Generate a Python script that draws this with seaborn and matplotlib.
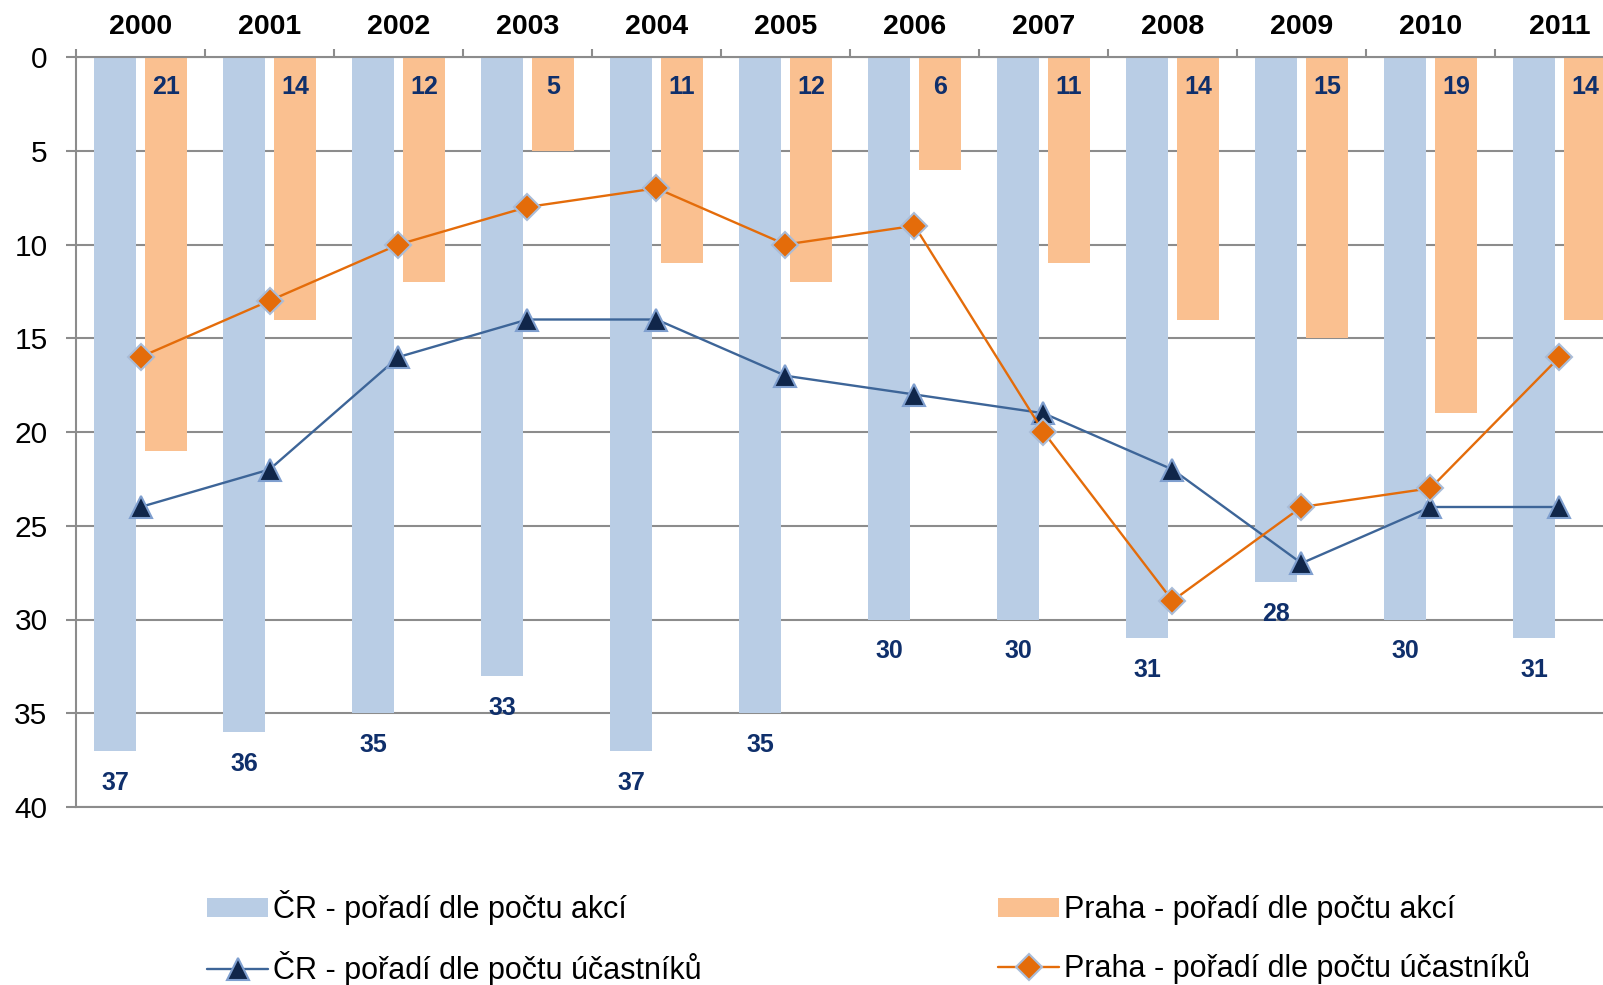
import matplotlib
matplotlib.use("Agg")
import matplotlib.pyplot as plt
from matplotlib.patches import Patch
from matplotlib.lines import Line2D
import seaborn as sns
import numpy as np
import pandas as pd

# data (rank, lower is better)
roky = ["2000", "2001", "2002", "2003", "2004", "2005",
        "2006", "2007", "2008", "2009", "2010", "2011"]
cr_akce = [37, 36, 35, 33, 37, 35, 30, 30, 31, 28, 30, 31]
praha_akce = [21, 14, 12, 5, 11, 12, 6, 11, 14, 15, 19, 14]
cr_ucast = [24, 22, 16, 14, 14, 17, 18, 19, 22, 27, 24, 24]
praha_ucast = [16, 13, 10, 8, 7, 10, 9, 20, 29, 24, 23, 16]

lbl_cr_akce = "ČR - pořadí dle počtu akcí"
lbl_praha_akce = "Praha - pořadí dle počtu akcí"
lbl_cr_ucast = "ČR - pořadí dle počtu účastníků"
lbl_praha_ucast = "Praha - pořadí dle počtu účastníků"

modra = "#b9cde5"
oranzova = "#fac090"
modra_cara = "#3d6598"
oranzova_cara = "#e46c0a"
popisky = "#0f2f6b"
seda = "#8c8c8c"

sns.set_style("white")
plt.rcParams["font.family"] = ["Liberation Sans", "DejaVu Sans"]
plt.rcParams["text.color"] = "black"
plt.rcParams["xtick.color"] = "black"
plt.rcParams["ytick.color"] = "black"

df = pd.DataFrame({
    "rok": roky * 2,
    "serie": [lbl_cr_akce] * len(roky) + [lbl_praha_akce] * len(roky),
    "poradi": cr_akce + praha_akce,
})

fig = plt.figure(figsize=(16.03, 9.85), dpi=100)
ax = fig.add_axes([76 / 1603, 178 / 985, 12 * 129 / 1603, 750 / 985])

sns.barplot(data=df, x="rok", y="poradi", hue="serie",
            palette=[modra, oranzova], width=0.79, gap=0.18,
            errorbar=None, saturation=1, linewidth=0, legend=False, ax=ax)

poz = np.arange(len(roky))
sns.lineplot(x=poz, y=cr_ucast, color=modra_cara, linewidth=1.7,
             marker="^", markersize=16, markerfacecolor="#10264a",
             markeredgecolor="#7f9fcf", markeredgewidth=1.5, ax=ax)
sns.lineplot(x=poz, y=praha_ucast, color=oranzova_cara, linewidth=1.7,
             marker="D", markersize=13, markerfacecolor=oranzova_cara,
             markeredgecolor="#a9bcd8", markeredgewidth=1.5, ax=ax)

# popisky hodnot
for i in poz:
    ax.text(i - 0.1975, cr_akce[i] + 1.7, str(cr_akce[i]), ha="center", va="center",
            fontsize=18, fontweight="bold", color=popisky)
    ax.text(i + 0.1975, 1.6, str(praha_akce[i]), ha="center", va="center",
            fontsize=18, fontweight="bold", color=popisky)

ax.set_ylim(40, 0)
ax.set_xlim(-0.5, len(roky) - 0.5)
ax.set_yticks(range(0, 41, 5))
ax.yaxis.grid(True, color=seda, linewidth=1.5)
ax.set_axisbelow(True)

ax.xaxis.tick_top()
ax.set_xticks(poz)
ax.set_xticklabels(roky, fontsize=20.5, fontweight="bold")
ax.set_xticks(np.arange(-0.5, len(roky)), minor=True)
ax.tick_params(axis="x", which="major", length=0, pad=12)
ax.tick_params(axis="x", which="minor", length=6, width=1.5, color=seda, direction="out", top=True)
ax.tick_params(axis="y", labelsize=21.5, length=7, width=1.5, color=seda, direction="out", left=True, pad=13.5)
ax.set_xlabel("")
ax.set_ylabel("")

for s in ["top", "left", "bottom"]:
    ax.spines[s].set_color(seda)
    ax.spines[s].set_linewidth(1.5)
ax.spines["right"].set_visible(False)

handles = [
    Patch(facecolor=modra, edgecolor="none"),
    Line2D([], [], color=modra_cara, linewidth=1.7, marker="^", markersize=16,
           markerfacecolor="#10264a", markeredgecolor="#7f9fcf", markeredgewidth=1.5),
    Patch(facecolor=oranzova, edgecolor="none"),
    Line2D([], [], color=oranzova_cara, linewidth=1.7, marker="D", markersize=13,
           markerfacecolor=oranzova_cara, markeredgecolor="#a9bcd8", markeredgewidth=1.5),
]
labels = [lbl_cr_akce, lbl_cr_ucast, lbl_praha_akce, lbl_praha_ucast]
fig.legend(handles, labels, ncol=2, loc="upper left", bbox_to_anchor=(207 / 1603, 1 - 890 / 985),
           frameon=False, fontsize=22, borderpad=0, borderaxespad=0,
           handlelength=2.0, handleheight=0.6, handletextpad=0.16,
           labelspacing=0.85, columnspacing=9.7)

fig.savefig("out.png", dpi=100)
